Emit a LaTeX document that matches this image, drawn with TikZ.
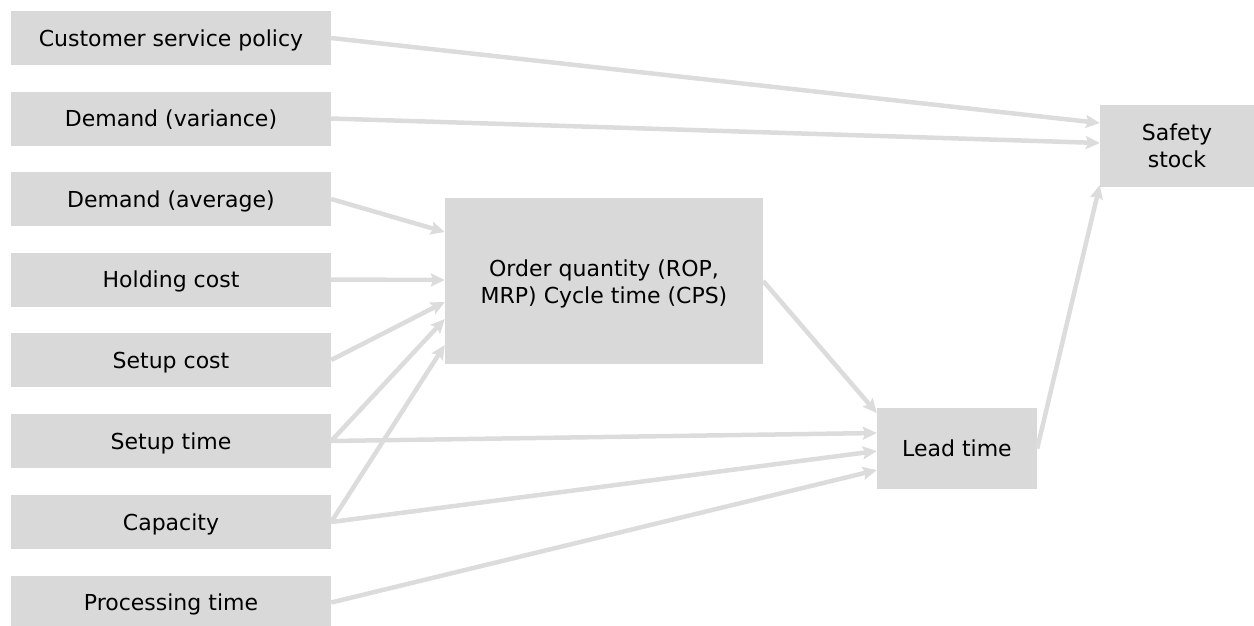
\documentclass[tikz,border=0pt]{standalone}
\usepackage{fontspec}
\setmainfont{DejaVu Sans}
\usetikzlibrary{arrows.meta,calc}
\definecolor{boxgray}{HTML}{D9D9D9}
\definecolor{linkgray}{HTML}{DCDCDC}
\tikzset{
  factor/.style={fill=boxgray, draw=none, inner sep=0pt, align=center,
    minimum width=320pt, minimum height=54pt,
    text height=21pt, text depth=5pt,
    font=\fontsize{22}{26.5}\selectfont},
  result/.style={fill=boxgray, draw=none, inner sep=0pt, align=center,
    font=\fontsize{22}{26.5}\selectfont},
  link/.style={draw=linkgray, line width=4.5pt,
    -{Stealth[length=14pt,width=13pt,inset=2.5pt]}},
}
\begin{document}
\begin{tikzpicture}[x=1pt,y=-1pt]
\useasboundingbox (0,0) rectangle (1254,625);

% input factors
\node[factor] (csp) at (171,38)    {Customer service policy};
\node[factor] (dv)  at (171,118.5) {Demand (variance)};
\node[factor] (da)  at (171,199)   {Demand (average)};
\node[factor] (hc)  at (171,279.5) {Holding cost};
\node[factor] (sc)  at (171,360)   {Setup cost};
\node[factor] (st)  at (171,441)   {Setup time};
\node[factor] (cap) at (171,522)   {Capacity};
\node[factor] (pt)  at (171,602.5) {Processing time};

% derived quantities
\node[result, minimum width=318pt, minimum height=166pt] (oq) at (604,281)
  {\rule{0pt}{23pt}Order quantity (ROP,\\MRP) Cycle time (CPS)};
\node[result, minimum width=160pt, minimum height=81pt,
      text height=21pt, text depth=5pt] (lt) at (957,448.5)
  {Lead time};
\node[result, minimum width=154pt, minimum height=82pt] (ss) at (1177,146)
  {Safety\\stock};

% influences on safety stock
\draw[link] (csp.east) -- ($(ss.west)+(0,-23)$);
\draw[link] (dv.east)  -- ($(ss.west)+(0,-3)$);
\draw[link] (lt.east)  -- ($(ss.west)+(0,39)$);

% influences on order quantity
\draw[link] (da.east)  -- ($(oq.west)+(0,-49)$);
\draw[link] (hc.east)  -- ($(oq.west)+(0,-1)$);
\draw[link] (sc.east)  -- ($(oq.west)+(0,21)$);
\draw[link] (st.east)  -- ($(oq.west)+(0,38)$);
\draw[link] (cap.east) -- ($(oq.west)+(0,64)$);

% influences on lead time
\draw[link] (oq.east)  -- ($(lt.west)+(0,-35.5)$);
\draw[link] (st.east)  -- ($(lt.west)+(0,-15.5)$);
\draw[link] (cap.east) -- ($(lt.west)+(0,2.5)$);
\draw[link] (pt.east)  -- ($(lt.west)+(0,21.5)$);
\end{tikzpicture}
\end{document}
